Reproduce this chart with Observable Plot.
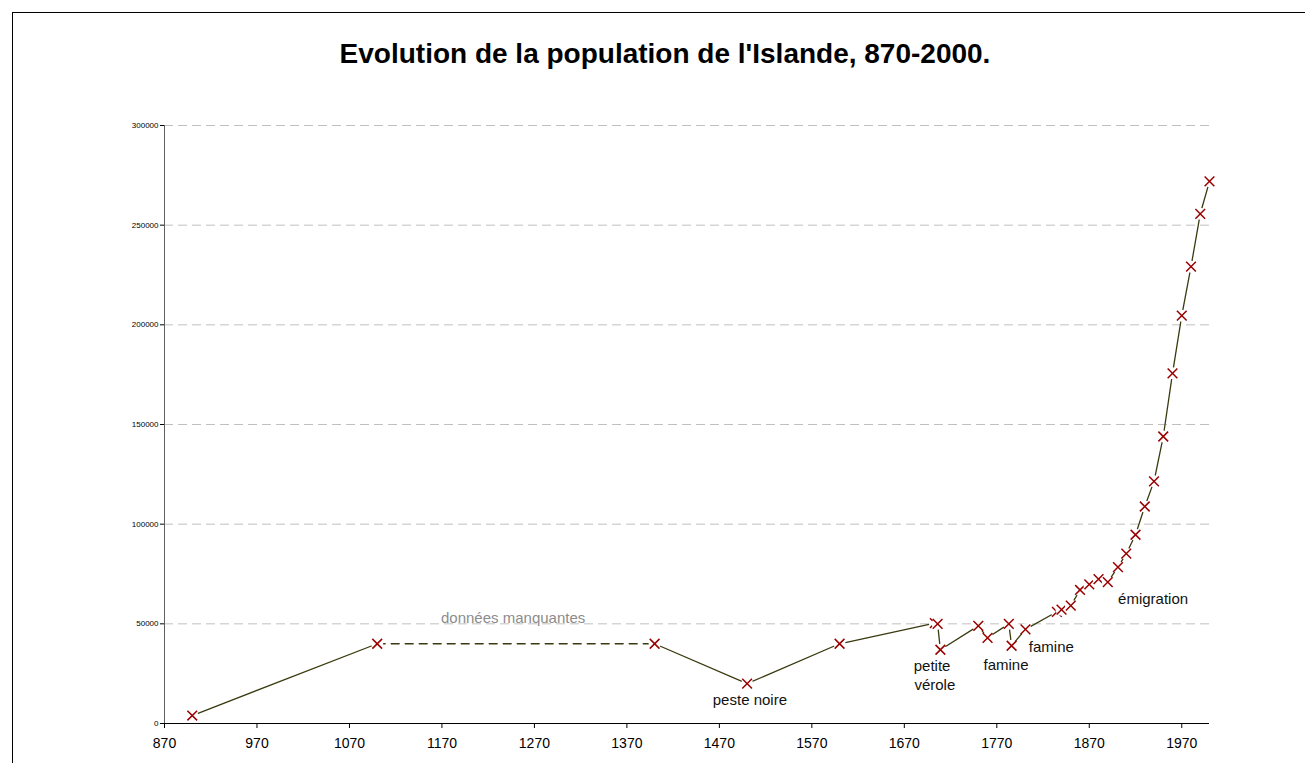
<!DOCTYPE html>
<html><head><meta charset="utf-8">
<script src="https://cdn.jsdelivr.net/npm/d3@7"></script>
<script src="https://cdn.jsdelivr.net/npm/@observablehq/plot@0.6"></script>
<style>
body{margin:0;background:#fff;}
#wrap{position:relative;width:1305px;height:763px;overflow:hidden;font-family:"Liberation Sans",Arial,sans-serif;}
#frame{position:absolute;left:12px;top:12px;width:1400px;height:900px;border-top:1px solid #000;border-left:1px solid #000;}
#title{position:absolute;left:12px;width:1306px;top:40px;text-align:center;font-weight:bold;font-size:28px;line-height:28px;color:#000;}
#chart{position:absolute;left:0;top:0;}
</style></head><body>
<div id="wrap"><div id="frame"></div><div id="chart"></div><div id="title">Evolution de la population de l'Islande, 870-2000.</div></div>
<script>
// Data
const years = [900,1100,1400,1500,1600,1703,1706,1709,1750,1760,1783,1786,1801,1835,1840,1850,1860,1870,1880,1890,1901,1910,1920,1930,1940,1950,1960,1970,1980,1990,2000];
const population = [4000,40000,40000,20000,40000,50358,50000,37000,49000,43000,50000,39000,47240,56035,57094,59157,66987,69763,72445,70927,78470,85183,94690,108861,121474,143973,175680,204578,229187,255708,272000];
const xTicks = [870,970,1070,1170,1270,1370,1470,1570,1670,1770,1870,1970];
const yTicks = [0,50000,100000,150000,200000,250000,300000];
// Annotations (text, anchor year, anchor population)
const noteTexts = ["peste noire","petite","vérole","famine","famine","émigration"];
const noteYears = [1503,1700,1703,1780,1829,1939];
const notePops = [11600,28800,19400,29100,38300,62500];
const missingText = ["données manquantes"];
const missingYear = [1247];
const missingPop = [53000];

const data = years.map((y,i)=>({year:y, pop:population[i]}));
const notes = noteTexts.map((t,i)=>({text:t, year:noteYears[i], pop:notePops[i]}));
const missing = missingText.map((t,i)=>({text:t, year:missingYear[i], pop:missingPop[i]}));

const lineColor = "#3a3a10";
const markColor = "#990000";

const markerMarks = data.map(d => [
  Plot.dot([d], {x:"year", y:"pop", r:6, fill:"white"}),
  Plot.dot([d], {x:"year", y:"pop", r:4.5, symbol:"times", stroke:markColor, strokeWidth:1.5})
]);

const plot = Plot.plot({
  width:1305, height:763,
  marginLeft:164, marginRight:96, marginTop:125, marginBottom:40,
  x:{domain:[870,2000]},
  y:{domain:[0,300000]},
  style:{fontFamily:"Liberation Sans, Arial, sans-serif", background:"transparent", overflow:"visible", color:"#000"},
  marks:[
    Plot.ruleY(yTicks.filter(d=>d>0), {stroke:"#c0c0c0", strokeDasharray:"9,5", strokeWidth:1}),
    Plot.axisY({ticks:yTicks, tickFormat:d=>String(d), tickSize:4, tickPadding:2, fontSize:8, label:null}),
    Plot.axisX({ticks:xTicks, tickFormat:d=>String(d), tickSize:5, tickPadding:10, fontSize:14, label:null}),
    Plot.ruleX([870], {stroke:"#606060"}),
    Plot.ruleY([0], {stroke:"#000"}),
    Plot.line(data.slice(0,2), {x:"year", y:"pop", stroke:lineColor, strokeWidth:1.3}),
    Plot.line(data.slice(1,3), {x:"year", y:"pop", stroke:lineColor, strokeWidth:1.3, strokeDasharray:"8,6"}),
    Plot.line(data.slice(2), {x:"year", y:"pop", stroke:lineColor, strokeWidth:1.3}),
    markerMarks,
    Plot.text(missing, {x:"year", y:"pop", text:"text", fill:"#8c8c8c", fontSize:15, textAnchor:"middle", lineAnchor:"middle"}),
    Plot.text(notes, {x:"year", y:"pop", text:"text", fill:"#111", fontSize:15, textAnchor:"middle", lineAnchor:"middle"})
  ]
});
document.getElementById("chart").appendChild(plot);
</script>
</body></html>
